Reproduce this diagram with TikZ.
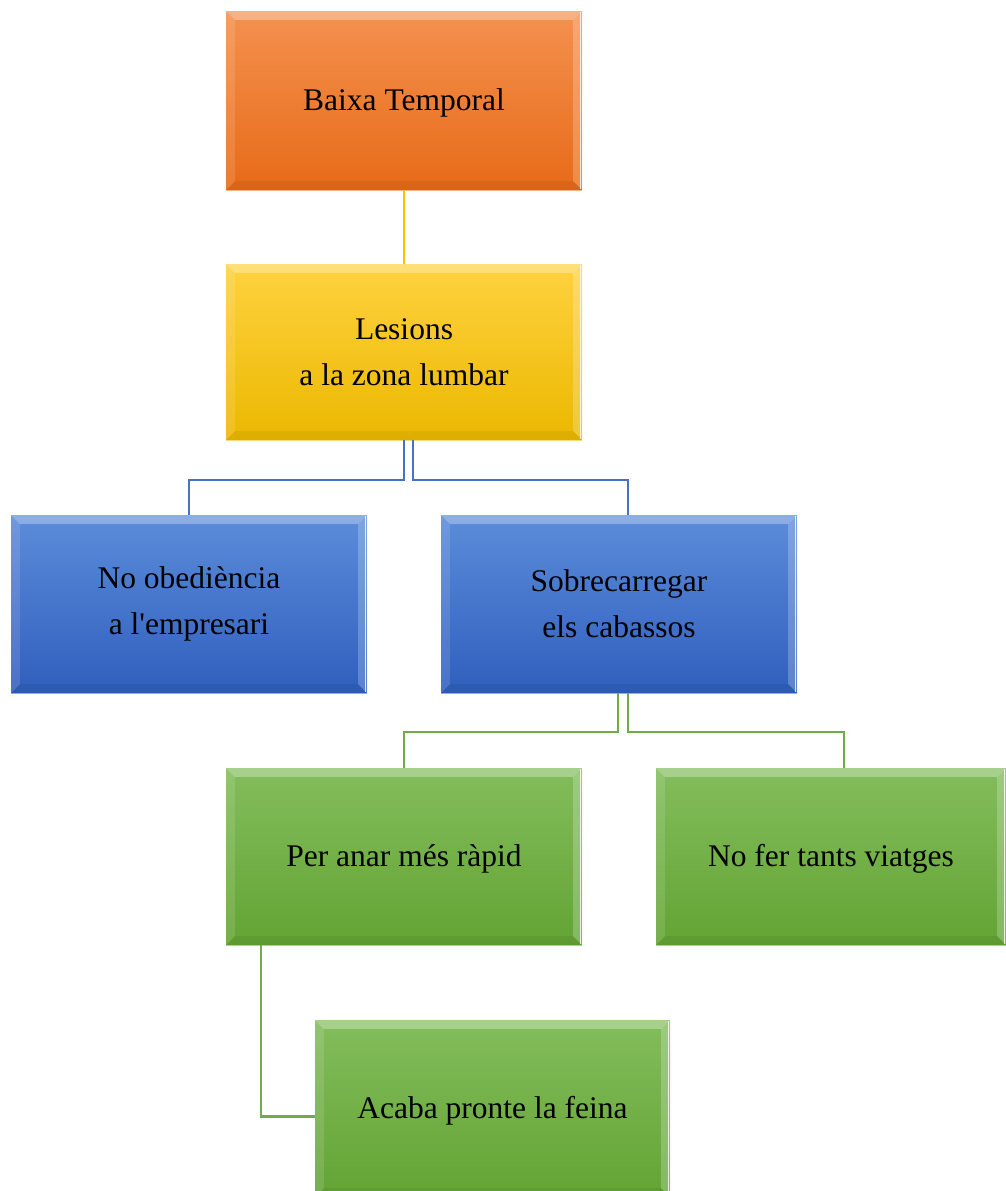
\documentclass[tikz,border=0pt]{standalone}
\usepackage{fontspec}
\setmainfont{Liberation Serif}[Ligatures=TeXOff]
\usetikzlibrary{calc}
\definecolor{orT}{HTML}{F4914F}
\definecolor{orB}{HTML}{E76B18}
\definecolor{yeT}{HTML}{FFD23F}
\definecolor{yeB}{HTML}{EBB800}
\definecolor{blT}{HTML}{5C8CDA}
\definecolor{blB}{HTML}{2F5FBD}
\definecolor{grT}{HTML}{83BD5C}
\definecolor{grB}{HTML}{63A434}
\definecolor{yeL}{HTML}{FFC000}
\definecolor{blL}{HTML}{4472C4}
\definecolor{grL}{HTML}{70AD47}
\newcommand\bevelbox[1]{%
  \fill[white,opacity=0.30] (#1.north west) -- (#1.north east) -- ($(#1.north east)+(-9,9)$) -- ($(#1.north west)+(9,9)$) -- cycle;
  \fill[white,opacity=0.12] (#1.north west) -- ($(#1.north west)+(9,9)$) -- ($(#1.south west)+(9,-9)$) -- (#1.south west) -- cycle;
  \fill[white,opacity=0.22] (#1.north east) -- ($(#1.north east)+(-9,9)$) -- ($(#1.south east)+(-9,-9)$) -- (#1.south east) -- cycle;
  \fill[black,opacity=0.06] (#1.south west) -- ($(#1.south west)+(9,-9)$) -- ($(#1.south east)+(-9,-9)$) -- (#1.south east) -- cycle;
  \draw[white,opacity=0.8,line width=1.5pt] ($(#1.north east)+(-1.5,1)$) -- ($(#1.south east)+(-1.5,-1)$);
  \draw[white,opacity=0.5,line width=0.8pt] (#1.north west) rectangle (#1.south east);
}
\begin{document}
\begin{tikzpicture}[x=1pt,y=-1pt,
  boxbase/.style={rectangle,inner sep=0pt,minimum width=356pt,minimum height=178pt,align=center,text=black},
  orbox/.style={boxbase,top color=orT,bottom color=orB},
  yebox/.style={boxbase,top color=yeT,bottom color=yeB},
  blbox/.style={boxbase,top color=blT,bottom color=blB},
  grbox/.style={boxbase,top color=grT,bottom color=grB},
  lbl/.style={align=center,text=black,font=\fontsize{31.5}{46}\selectfont},
  conn/.style={line width=2.4pt}]
\useasboundingbox (0,0) rectangle (1006,1191);
\begin{scope}
\clip (0,0) rectangle (1006,1191);
\node[orbox,minimum height=179pt] (bt) at (404,100.5) {};
\node[yebox,minimum height=176pt] (le) at (404,352) {};
\node[blbox] (no) at (189,604) {};
\node[blbox] (so) at (619,604) {};
\node[grbox,minimum height=177pt] (pe) at (404,856.5) {};
\node[grbox,minimum height=177pt,minimum width=350pt] (nf) at (831,856.5) {};
\node[grbox,minimum height=177pt,minimum width=355pt] (ac) at (492.5,1108.5) {};
\foreach \n in {bt,le,no,so,pe,nf,ac} {\bevelbox{\n}}
\node[lbl] (tbt) at ($(bt)+(0,2)$) {Baixa Temporal};
\node[lbl] (tle) at (le) {Lesions\\a la zona lumbar};
\node[lbl] (tno) at (no) {No obediència\\a l'empresari};
\node[lbl] (tso) at (so) {Sobrecarregar\\els cabassos};
\node[lbl] (tpe) at ($(pe)+(0,2)$) {Per anar més ràpid};
\node[lbl] (tnf) at ($(nf)+(0,2)$) {No fer tants viatges};
\node[lbl] (tac) at ($(ac)+(0,2)$) {Acaba pronte la feina};
\end{scope}
% connectors
\draw[conn,yeL] (bt.south) -- (le.north);
\coordinate (l1) at ($(le.south)+(0,0)$);
\coordinate (l2) at ($(le.south)+(9,0)$);
\draw[conn,blL] (l1) -- ++(0,40) -| (no.north);
\draw[conn,blL] (l2) -- ++(0,40) -| ($(so.north)+(9,0)$);
\coordinate (s1) at ($(so.south)+(-1,0)$);
\coordinate (s2) at ($(so.south)+(9,0)$);
\draw[conn,grL] (s1) -- ++(0,39) -| (pe.north);
\draw[conn,grL] (s2) -- ++(0,39) -| ($(nf.north)+(13,0)$);
\coordinate (p1) at ($(pe.south west)+(35,0)$);
\draw[conn,grL] (p1) |- ($(ac.west)+(0,8)$);
\end{tikzpicture}
\end{document}
